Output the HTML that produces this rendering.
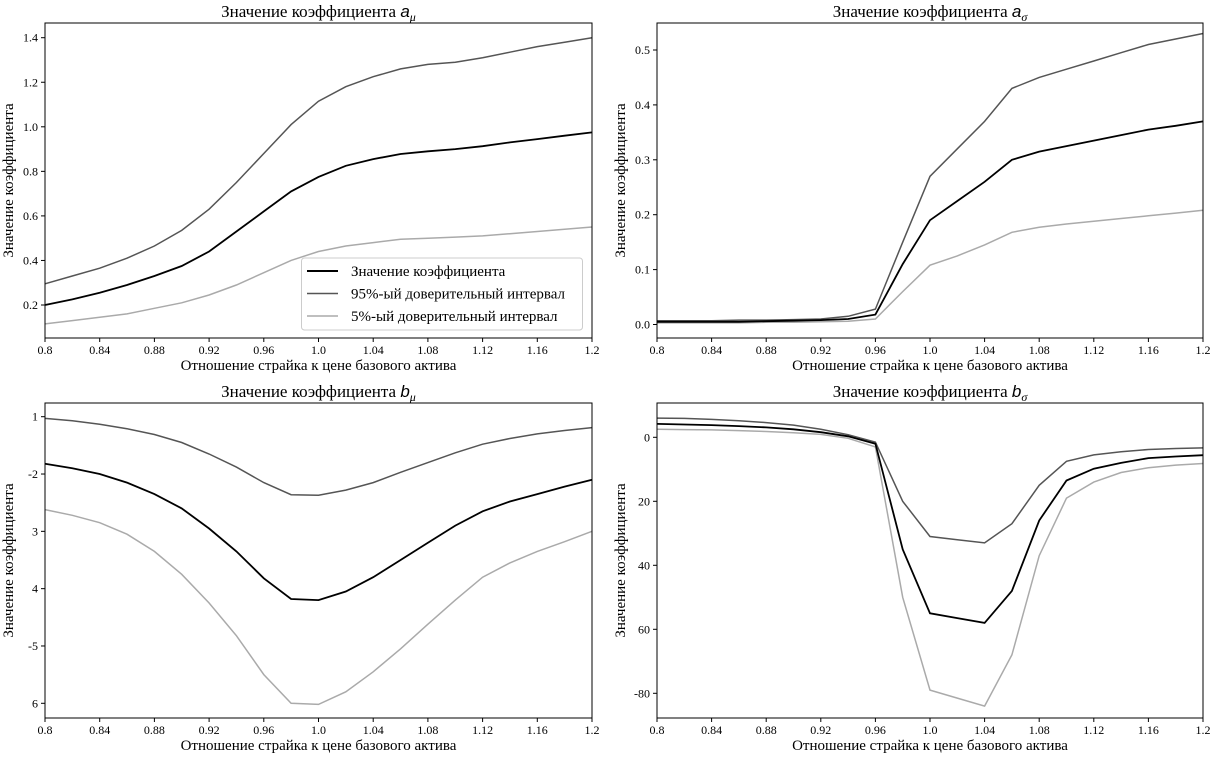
<!DOCTYPE html>
<html><head><meta charset="utf-8"><style>
body{margin:0;background:#fff}
svg{display:block;font-family:"Liberation Serif",serif}
</style></head><body>
<svg id="s" width="1215" height="760"></svg>
<script>
const xs=[0.8,0.82,0.84,0.86,0.88,0.9,0.92,0.94,0.96,0.98,1.0,1.02,1.04,1.06,1.08,1.1,1.12,1.14,1.16,1.18,1.2];
const xTicks=[0.8,0.84,0.88,0.92,0.96,1.0,1.04,1.08,1.12,1.16,1.2];
const xTickLabels=["0.8","0.84","0.88","0.92","0.96","1.0","1.04","1.08","1.12","1.16","1.2"];
const amuMean=[0.2,0.225,0.255,0.29,0.33,0.375,0.44,0.53,0.62,0.71,0.775,0.825,0.855,0.878,0.89,0.9,0.913,0.93,0.945,0.96,0.975];
const amuUp=[0.295,0.33,0.365,0.41,0.465,0.535,0.63,0.75,0.88,1.01,1.115,1.18,1.225,1.26,1.28,1.29,1.31,1.335,1.36,1.38,1.4];
const amuLo=[0.115,0.13,0.145,0.16,0.185,0.21,0.245,0.29,0.345,0.4,0.44,0.465,0.48,0.495,0.5,0.505,0.51,0.52,0.53,0.54,0.55];
const asgMean=[0.005,0.005,0.005,0.005,0.006,0.007,0.008,0.01,0.018,0.11,0.19,0.225,0.26,0.3,0.315,0.325,0.335,0.345,0.355,0.362,0.37];
const asgUp=[0.007,0.007,0.007,0.008,0.008,0.009,0.01,0.015,0.028,0.15,0.27,0.32,0.37,0.43,0.45,0.465,0.48,0.495,0.51,0.52,0.53];
const asgLo=[0.003,0.003,0.003,0.003,0.004,0.004,0.005,0.006,0.01,0.06,0.108,0.125,0.145,0.168,0.177,0.183,0.188,0.193,0.198,0.203,0.208];
const bmuMean=[-1.82,-1.9,-2.0,-2.15,-2.35,-2.6,-2.95,-3.35,-3.82,-4.18,-4.2,-4.05,-3.8,-3.5,-3.2,-2.9,-2.65,-2.48,-2.35,-2.22,-2.1];
const bmuUp=[-1.03,-1.07,-1.13,-1.21,-1.31,-1.45,-1.65,-1.88,-2.15,-2.36,-2.37,-2.28,-2.15,-1.97,-1.8,-1.63,-1.48,-1.38,-1.3,-1.24,-1.19];
const bmuLo=[-2.62,-2.72,-2.85,-3.05,-3.35,-3.75,-4.25,-4.82,-5.5,-6.0,-6.02,-5.8,-5.45,-5.05,-4.62,-4.2,-3.8,-3.55,-3.35,-3.18,-3.0];
const bsgMean=[4.2,4.0,3.8,3.5,3.1,2.5,1.6,0.3,-2,-35,-55,-56.5,-58,-48,-26,-13.5,-9.8,-8,-6.5,-6,-5.6];
const bsgUp=[6,5.9,5.6,5.2,4.6,3.8,2.5,0.8,-1.5,-20,-31,-32,-33,-27,-15,-7.5,-5.5,-4.5,-3.8,-3.5,-3.3];
const bsgLo=[2.5,2.4,2.3,2.1,1.8,1.4,0.9,-0.3,-3,-50,-79,-81.5,-84,-68,-37,-19,-14,-11,-9.5,-8.7,-8.2];
const amuTicks=[0.2,0.4,0.6,0.8,1.0,1.2,1.4];
const amuTickLabels=["0.2","0.4","0.6","0.8","1.0","1.2","1.4"];
const asgTicks=[0,0.1,0.2,0.3,0.4,0.5];
const asgTickLabels=["0.0","0.1","0.2","0.3","0.4","0.5"];
const bmuTicks=[-1,-2,-3,-4,-5,-6];
const bmuTickLabels=["1","-2","3","4","-5","6"];
const bsgTicks=[0,-20,-40,-60,-80];
const bsgTickLabels=["0","20","40","60","-80"];

const NS="http://www.w3.org/2000/svg";
const svg=document.getElementById('s');
function mk(tag,attrs,parent,text){const e=document.createElementNS(NS,tag);for(const k in attrs)e.setAttribute(k,attrs[k]);if(text!==undefined)e.textContent=text;parent.appendChild(e);return e;}

function panel(cfg){
  const g=mk('g',{},svg);
  
  
  const L=cfg.L,R=cfg.R,T=cfg.T,B=cfg.B;
  const xf=v=>L+(v-0.8)/(0.4)*(R-L);
  const yf=v=>cfg.py0+(v-cfg.v0)*(cfg.py1-cfg.py0)/(cfg.v1-cfg.v0);
  const series=[[cfg.up,'#555','upper-95-line'],[cfg.lo,'#aaa','lower-5-line'],[cfg.mean,'#000','mean-line']];
  series.forEach(s=>{
    const p=mk('polyline',{points:xs.map((x,i)=>xf(x).toFixed(1)+','+yf(s[0][i]).toFixed(1)).join(' '),fill:'none',stroke:s[1],'stroke-width':s[1]=='#000'?1.8:1.5},g);
    
    
  });
  const fr=mk('rect',{x:L,y:T,width:R-L,height:B-T,fill:'none',stroke:'#000','stroke-width':1},g);
  
  
  xTicks.forEach((v,i)=>{
    mk('line',{x1:xf(v),x2:xf(v),y1:B,y2:B+4,stroke:'#000'},g);
    const t=mk('text',{x:xf(v),y:B+16,'font-size':12,'text-anchor':'middle'},g,xTickLabels[i]);
    
    
  });
  cfg.yt.forEach((v,i)=>{
    mk('line',{x1:L-4,x2:L,y1:yf(v),y2:yf(v),stroke:'#000'},g);
    const t=mk('text',{x:L-7,y:yf(v)+4,'font-size':12,'text-anchor':'end'},g,cfg.ytl[i]);
    
    
  });
  const xl=mk('text',{x:(L+R)/2,y:B+32,'font-size':15,'text-anchor':'middle'},g,'Отношение страйка к цене базового актива');
  
  
  const yc=(T+B)/2;
  const yl=mk('text',{x:cfg.ylx,y:yc,'font-size':15,'text-anchor':'middle',transform:`rotate(-90 ${cfg.ylx} ${yc})`},g,'Значение коэффициента');
  
  
  const ti=mk('text',{x:(L+R)/2,y:T-6,'font-size':17,'text-anchor':'middle'},g);
  
  
  mk('tspan',{},ti,'Значение коэффициента ');
  mk('tspan',{'font-family':'Liberation Sans,sans-serif','font-style':'italic'},ti,cfg.sym);
  mk('tspan',{'font-size':12,'dy':4,'font-style':'italic'},ti,cfg.sub);
  return g;
}
const g1=panel({name:'panel-a-mu',L:45,R:592,T:23,B:338,py0:305,v0:0.2,py1:37.7,v1:1.4,up:amuUp,lo:amuLo,mean:amuMean,yt:amuTicks,ytl:amuTickLabels,ylx:13,sym:'a',sub:'μ'});
panel({name:'panel-a-sigma',L:657,R:1203,T:23,B:338,py0:324.5,v0:0,py1:50,v1:0.5,up:asgUp,lo:asgLo,mean:asgMean,yt:asgTicks,ytl:asgTickLabels,ylx:625,sym:'a',sub:'σ'});
panel({name:'panel-b-mu',L:45,R:592,T:403,B:718,py0:416.7,v0:-1,py1:703.3,v1:-6,up:bmuUp,lo:bmuLo,mean:bmuMean,yt:bmuTicks,ytl:bmuTickLabels,ylx:13,sym:'b',sub:'μ'});
panel({name:'panel-b-sigma',L:657,R:1203,T:403,B:718,py0:437.3,v0:0,py1:693.3,v1:-80,up:bsgUp,lo:bsgLo,mean:bsgMean,yt:bsgTicks,ytl:bsgTickLabels,ylx:625,sym:'b',sub:'σ'});

// legend
const lg=mk('g',{},g1);


mk('rect',{x:301.5,y:258,width:281,height:72,rx:3,fill:'#fff','fill-opacity':0.85,stroke:'#ccc'},lg);
const entries=[['Значение коэффициента','#000'],['95%-ый доверительный интервал','#555'],['5%-ый доверительный интервал','#aaa']];
entries.forEach((e,i)=>{
  const y=271+i*22.5;
  const ent=mk('g',{},lg);
  
  
  mk('line',{x1:307,x2:338,y1:y,y2:y,stroke:e[1],'stroke-width':e[1]=='#000'?2:1.5},ent);
  mk('text',{x:351,y:y+5,'font-size':15},ent,e[0]);
});
</script>
</body></html>
